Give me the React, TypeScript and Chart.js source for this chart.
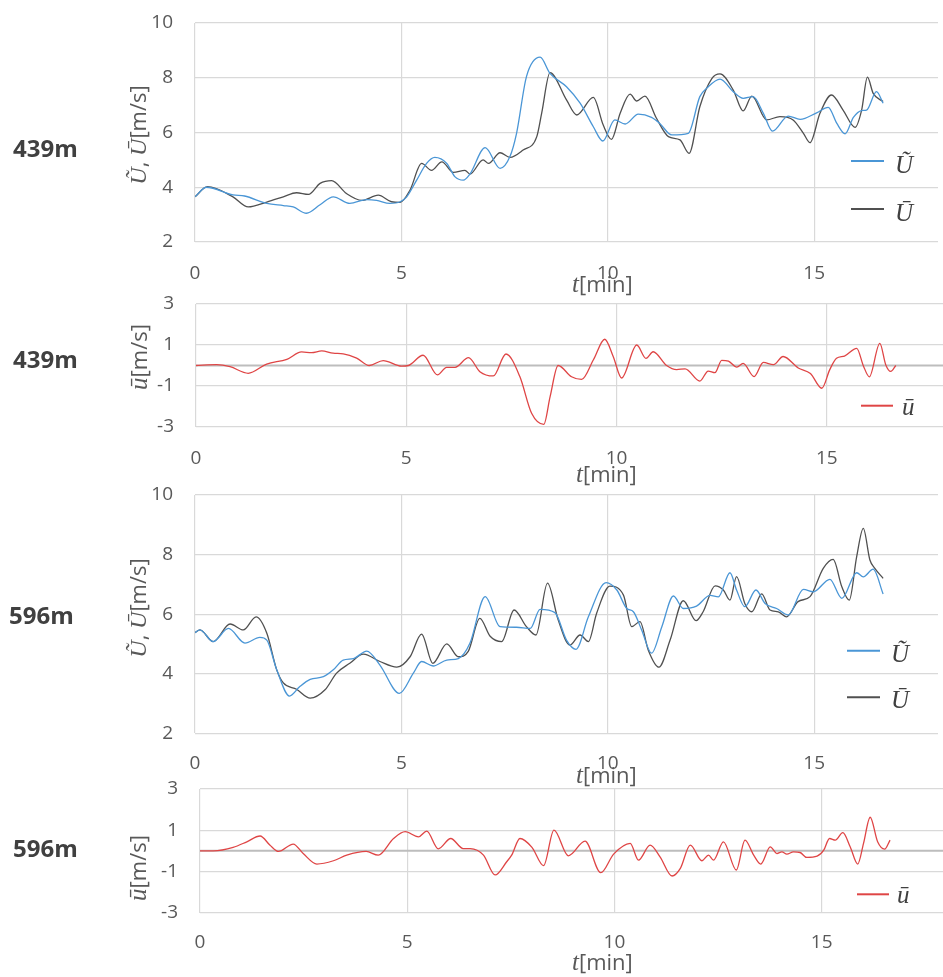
import React, { useEffect, useRef } from 'react';
import { Chart, registerables } from 'chart.js';

Chart.register(...registerables);

type Pt = [number, number];

// ---------------- data ----------------
const X_MIN = 0;
const X_MAX = 18;
const X_STEP = 5;
const SPEED_Y = { min: 2, max: 10, step: 2 };
const FLUCT_Y = { min: -3, max: 3, step: 2 };

const LABEL_TILDE = 'Ũ';
const LABEL_BAR = 'Ū';
const LABEL_FLUCT = 'ū';

// 439m – Ũ (blue)
const U_TILDE_439: Pt[] = [
  [0, 3.65], [0.28, 4.0], [0.92, 3.72], [1.2, 3.68], [1.74, 3.41], [2.14, 3.33], [2.38, 3.28], [2.7, 3.05],
  [3.03, 3.36], [3.35, 3.65], [3.75, 3.41], [4.16, 3.55], [4.4, 3.52], [4.72, 3.41], [4.97, 3.47], [5.13, 3.65],
  [5.37, 4.26], [5.61, 4.87], [5.81, 5.09], [6.1, 4.87], [6.3, 4.38], [6.5, 4.26], [6.66, 4.48], [7.03, 5.45],
  [7.39, 4.69], [7.63, 5.12], [7.79, 5.97], [8.03, 8.04], [8.36, 8.75], [8.6, 8.16], [9.0, 7.67], [9.33, 7.07],
  [9.65, 6.21], [9.88, 5.69], [10.17, 6.46], [10.42, 6.31], [10.74, 6.67], [11.06, 6.55], [11.26, 6.33], [11.55, 5.91],
  [11.95, 5.97], [12.23, 7.31], [12.4, 7.62], [12.72, 7.95], [13.04, 7.49], [13.28, 7.25], [13.52, 7.31], [13.77, 6.7],
  [13.99, 6.05], [14.37, 6.6], [14.66, 6.48], [15.06, 6.72], [15.34, 6.92], [15.55, 6.33], [15.75, 5.95], [15.95, 6.55],
  [16.15, 6.8], [16.27, 6.82], [16.51, 7.49], [16.67, 7.07],
];

// 439m – Ū (black)
const U_BAR_439: Pt[] = [
  [0, 3.65], [0.3, 4.02], [0.92, 3.65], [1.29, 3.28], [1.74, 3.46], [2.14, 3.65], [2.46, 3.8], [2.75, 3.74],
  [3.03, 4.14], [3.31, 4.24], [3.67, 3.77], [4.04, 3.52], [4.44, 3.71], [4.76, 3.47], [4.97, 3.45], [5.21, 3.9],
  [5.49, 4.87], [5.73, 4.62], [5.98, 4.93], [6.26, 4.54], [6.54, 4.62], [6.66, 4.48], [6.98, 5.0], [7.11, 4.87],
  [7.39, 5.26], [7.63, 5.09], [7.95, 5.36], [8.28, 5.85], [8.4, 6.72], [8.6, 8.19], [9.0, 7.19], [9.25, 6.64],
  [9.65, 7.28], [9.89, 6.27], [10.09, 5.75], [10.3, 6.7], [10.54, 7.4], [10.7, 7.15], [10.9, 7.33], [11.18, 6.52],
  [11.47, 5.85], [11.75, 5.73], [11.97, 5.24], [12.23, 6.94], [12.52, 7.97], [12.72, 8.14], [13.04, 7.55], [13.28, 6.79],
  [13.49, 7.33], [13.85, 6.46], [14.17, 6.58], [14.49, 6.46], [14.74, 5.97], [14.9, 5.63], [15.14, 6.7], [15.42, 7.37],
  [15.7, 6.82], [15.99, 6.19], [16.15, 6.82], [16.29, 8.02], [16.43, 7.43], [16.67, 7.13],
];

// 439m – ū (red)
const U_FLUCT_439: Pt[] = [
  [0, 0], [0.49, 0.04], [0.81, -0.06], [1.24, -0.38], [1.68, 0.07], [2.16, 0.3], [2.51, 0.66], [2.75, 0.63],
  [2.99, 0.71], [3.26, 0.6], [3.5, 0.57], [3.82, 0.36], [4.12, 0.0], [4.45, 0.24], [4.89, -0.03], [5.05, 0],
  [5.4, 0.5], [5.74, -0.46], [5.96, -0.09], [6.16, -0.09], [6.48, 0.38], [6.75, -0.3], [7.07, -0.51], [7.37, 0.56],
  [7.7, -0.54], [7.98, -2.33], [8.27, -2.87], [8.42, -1.52], [8.61, 0.0], [8.93, -0.55], [9.17, -0.68], [9.45, 0.28],
  [9.72, 1.28], [9.92, 0.44], [10.12, -0.61], [10.48, 1.0], [10.7, 0.35], [10.87, 0.67], [11.19, 0.0], [11.43, -0.2],
  [11.63, -0.16], [11.98, -0.76], [12.18, -0.27], [12.34, -0.35], [12.5, 0.25], [12.66, 0.21], [12.86, -0.08], [13.01, 0.1],
  [13.27, -0.54], [13.49, 0.15], [13.73, 0.04], [13.96, 0.44], [14.32, -0.12], [14.61, -0.39], [14.88, -1.11], [15.07, -0.2],
  [15.23, 0.35], [15.42, 0.46], [15.71, 0.84], [15.87, -0.02], [16.01, -0.55], [16.26, 1.08], [16.4, 0.04], [16.52, -0.29],
  [16.64, 0],
];

// 596m – Ũ (blue)
const U_TILDE_596: Pt[] = [
  [0, 5.38], [0.12, 5.47], [0.44, 5.08], [0.81, 5.52], [1.21, 5.03], [1.57, 5.22], [1.74, 5.13], [1.98, 4.13],
  [2.29, 3.25], [2.54, 3.57], [2.79, 3.81], [3.11, 3.9], [3.35, 4.13], [3.59, 4.46], [3.84, 4.51], [4.16, 4.76],
  [4.48, 4.29], [4.95, 3.34], [5.29, 4.02], [5.49, 4.41], [5.77, 4.26], [6.1, 4.46], [6.38, 4.51], [6.66, 5.02],
  [7.03, 6.59], [7.39, 5.58], [7.79, 5.56], [8.12, 5.52], [8.36, 6.16], [8.72, 6.05], [9.0, 5.13], [9.23, 4.82],
  [9.53, 5.91], [9.96, 7.06], [10.22, 6.81], [10.46, 6.19], [10.62, 6.08], [10.82, 5.47], [11.06, 4.69], [11.31, 5.58],
  [11.59, 6.61], [11.83, 6.19], [12.15, 6.27], [12.48, 6.63], [12.68, 6.58], [12.96, 7.39], [13.12, 6.81], [13.32, 6.25],
  [13.59, 6.81], [13.81, 6.36], [14.09, 6.19], [14.37, 5.97], [14.74, 6.83], [14.98, 6.75], [15.38, 7.17], [15.67, 6.53],
  [16.03, 7.39], [16.19, 7.25], [16.43, 7.51], [16.67, 6.68],
];

// 596m – Ū (black)
const U_BAR_596: Pt[] = [
  [0, 5.38], [0.12, 5.47], [0.44, 5.08], [0.85, 5.67], [1.17, 5.47], [1.48, 5.91], [1.74, 5.36], [1.98, 4.13],
  [2.14, 3.69], [2.46, 3.48], [2.79, 3.18], [3.15, 3.46], [3.43, 4.02], [3.75, 4.35], [4.08, 4.66], [4.48, 4.41],
  [4.89, 4.22], [5.21, 4.57], [5.49, 5.33], [5.76, 4.35], [6.1, 5.0], [6.38, 4.57], [6.62, 4.75], [6.9, 5.86],
  [7.15, 5.26], [7.43, 5.08], [7.73, 6.14], [8.03, 5.58], [8.26, 5.3], [8.54, 7.04], [8.8, 5.8], [9.08, 4.96],
  [9.33, 5.3], [9.53, 5.08], [9.73, 6.03], [10.05, 6.94], [10.38, 6.64], [10.58, 5.58], [10.78, 5.75], [10.98, 4.8],
  [11.24, 4.22], [11.51, 5.13], [11.83, 6.45], [12.14, 5.78], [12.31, 6.08], [12.6, 6.95], [12.8, 6.81], [12.96, 6.47],
  [13.12, 7.26], [13.32, 6.36], [13.49, 6.08], [13.73, 6.68], [13.93, 6.14], [14.13, 6.08], [14.33, 5.91], [14.61, 6.42],
  [14.9, 6.59], [15.22, 7.54], [15.46, 7.84], [15.67, 6.92], [15.85, 6.47], [16.03, 7.93], [16.19, 8.88], [16.35, 7.82],
  [16.47, 7.54], [16.67, 7.2],
];

// 596m – ū (red)
const U_FLUCT_596: Pt[] = [
  [0, 0], [0.32, 0], [0.8, 0.17], [1.13, 0.44], [1.45, 0.72], [1.69, 0.27], [1.89, -0.03], [2.25, 0.33],
  [2.49, -0.13], [2.82, -0.64], [3.22, -0.48], [3.54, -0.21], [4.01, -0.03], [4.3, -0.21], [4.67, 0.6], [4.95, 0.93],
  [5.27, 0.68], [5.47, 0.96], [5.75, 0.1], [6.05, 0.6], [6.35, 0.11], [6.52, 0.11], [6.84, -0.21], [7.12, -1.17],
  [7.4, -0.53], [7.52, -0.21], [7.72, 0.6], [8.01, 0.17], [8.29, -0.72], [8.54, 1.01], [8.89, -0.24], [9.29, 0.47],
  [9.67, -1.06], [9.98, -0.16], [10.38, 0.36], [10.58, -0.45], [10.86, 0.28], [11.1, -0.29], [11.39, -1.22], [11.59, -0.85],
  [11.83, 0.28], [12.11, -0.48], [12.27, -0.21], [12.39, -0.45], [12.63, 0.44], [12.94, -0.93], [13.15, 0.52], [13.36, -0.21],
  [13.53, -0.64], [13.76, 0.19], [13.92, -0.13], [14.04, -0.05], [14.16, -0.16], [14.32, -0.05], [14.48, -0.08], [14.64, -0.32],
  [14.89, -0.26], [15.05, 0.03], [15.19, 0.6], [15.33, 0.52], [15.51, 0.88], [15.69, 0.19], [15.87, -0.64], [16.01, 0.36],
  [16.17, 1.63], [16.35, 0.44], [16.52, 0.08], [16.65, 0.52],
];

// ---------------- styles ----------------
const BLUE = '#4a96d6';
const BLACK = '#505050';
const RED = '#df4545';
const GRID = '#d9d9d9';
const ZERO = '#bdbdbd';
const TEXT = '#595959';
const DARK = '#404040';
const SANS = '"Open Sans", "Noto Sans", sans-serif';
const MATH = '"Liberation Serif", "DejaVu Serif", serif';

type Run = { text: string; font: string };

const X_TITLE: Run[] = [
  { text: 't', font: `italic 25px ${MATH}` },
  { text: '[min]', font: `22px ${SANS}` },
];
const Y_TITLE_SPEED: Run[] = [
  { text: LABEL_TILDE, font: `italic 24px ${MATH}` },
  { text: ', ', font: `22px ${SANS}` },
  { text: LABEL_BAR, font: `italic 24px ${MATH}` },
  { text: '[m/s]', font: `22px ${SANS}` },
];
const Y_TITLE_FLUCT: Run[] = [
  { text: LABEL_FLUCT, font: `italic 25px ${MATH}` },
  { text: '[m/s]', font: `22px ${SANS}` },
];

type Series = { label: string; data: Pt[]; color: string };
type PanelSpec = {
  key: string;
  side: string;
  top: number; height: number;
  area: { left: number; top: number; bottom: number; right: number };
  y: { min: number; max: number; step: number };
  zeroLine: boolean;
  series: Series[];
  xPad: number;
  sidePos: { x: number; base: number };
  yTitle: Run[];
  yTitlePos: { base: number; cy: number };
  xTitlePos: { x: number; base: number };
  legend: { x1: number; x2: number; lx: number; ys: number[]; off: number };
};

const PANELS: PanelSpec[] = [
  {
    key: 'p1', side: '439m', top: 0, height: 300,
    area: { left: 195, top: 23, bottom: 242, right: 938 },
    y: SPEED_Y, zeroLine: false,
    series: [
      { label: LABEL_TILDE, data: U_TILDE_439, color: BLUE },
      { label: LABEL_BAR, data: U_BAR_439, color: BLACK },
    ],
    xPad: 20,
    sidePos: { x: 13, base: 157 },
    yTitle: Y_TITLE_SPEED, yTitlePos: { base: 146, cy: 135 },
    xTitlePos: { x: 572, base: 292 },
    legend: { x1: 851, x2: 884, lx: 895, ys: [161, 209], off: 12 },
  },
  {
    key: 'p2', side: '439m', top: 290, height: 200,
    area: { left: 196, top: 304, bottom: 427, right: 953 },
    y: FLUCT_Y, zeroLine: true,
    series: [{ label: LABEL_FLUCT, data: U_FLUCT_439, color: RED }],
    xPad: 20,
    sidePos: { x: 13, base: 368 },
    yTitle: Y_TITLE_FLUCT, yTitlePos: { base: 147, cy: 357 },
    xTitlePos: { x: 576, base: 482 },
    legend: { x1: 861, x2: 893, lx: 902, ys: [405.7], off: 9 },
  },
  {
    key: 'p3', side: '596m', top: 480, height: 310,
    area: { left: 195, top: 495, bottom: 733.3, right: 938 },
    y: SPEED_Y, zeroLine: false,
    series: [
      { label: LABEL_TILDE, data: U_TILDE_596, color: BLUE },
      { label: LABEL_BAR, data: U_BAR_596, color: BLACK },
    ],
    xPad: 19,
    sidePos: { x: 9, base: 624 },
    yTitle: Y_TITLE_SPEED, yTitlePos: { base: 146, cy: 608 },
    xTitlePos: { x: 576, base: 783 },
    legend: { x1: 847, x2: 880, lx: 891, ys: [650.7, 697.3], off: 11 },
  },
  {
    key: 'p4', side: '596m', top: 770, height: 207,
    area: { left: 200, top: 789, bottom: 912.7, right: 946 },
    y: FLUCT_Y, zeroLine: true,
    series: [{ label: LABEL_FLUCT, data: U_FLUCT_596, color: RED }],
    xPad: 18,
    sidePos: { x: 13, base: 857 },
    yTitle: Y_TITLE_FLUCT, yTitlePos: { base: 146, cy: 868 },
    xTitlePos: { x: 572, base: 970 },
    legend: { x1: 857, x2: 889, lx: 897, ys: [894.3], off: 9 },
  },
];

function runsWidth(ctx: CanvasRenderingContext2D, runs: Run[]) {
  let w = 0;
  for (const r of runs) { ctx.font = r.font; w += ctx.measureText(r.text).width; }
  return w;
}
function drawRuns(ctx: CanvasRenderingContext2D, runs: Run[], x: number, y: number) {
  let cx = x;
  for (const r of runs) {
    ctx.font = r.font;
    ctx.fillText(r.text, cx, y);
    cx += ctx.measureText(r.text).width;
  }
}

function makeDeco(p: PanelSpec) {
  return {
    id: 'deco_' + p.key,
    beforeDatasetsDraw(chart: any) {
      if (!p.zeroLine) return;
      const { ctx, chartArea } = chart;
      const y = chart.scales.y.getPixelForValue(0);
      ctx.save();
      ctx.strokeStyle = ZERO;
      ctx.lineWidth = 2;
      ctx.beginPath();
      ctx.moveTo(chartArea.left, y);
      ctx.lineTo(chartArea.right, y);
      ctx.stroke();
      ctx.restore();
    },
    afterDraw(chart: any) {
      const ctx: CanvasRenderingContext2D = chart.ctx;
      const off = p.top;
      ctx.save();
      ctx.textAlign = 'left';
      ctx.textBaseline = 'alphabetic';
      // side label
      ctx.fillStyle = DARK;
      ctx.font = `bold 24px ${SANS}`;
      ctx.fillText(p.side, p.sidePos.x, p.sidePos.base - off);
      // y title
      ctx.fillStyle = TEXT;
      ctx.save();
      ctx.translate(p.yTitlePos.base, p.yTitlePos.cy - off);
      ctx.rotate(-Math.PI / 2);
      const w = runsWidth(ctx, p.yTitle);
      drawRuns(ctx, p.yTitle, -w / 2, 0);
      ctx.restore();
      // x title
      ctx.fillStyle = TEXT;
      drawRuns(ctx, X_TITLE, p.xTitlePos.x, p.xTitlePos.base - off);
      // legend
      chart.data.datasets.forEach((ds: any, i: number) => {
        const y = p.legend.ys[i] - off;
        ctx.strokeStyle = ds.borderColor;
        ctx.lineWidth = 2;
        ctx.beginPath();
        ctx.moveTo(p.legend.x1, y);
        ctx.lineTo(p.legend.x2, y);
        ctx.stroke();
        ctx.fillStyle = DARK;
        ctx.font = `italic 25px ${MATH}`;
        ctx.fillText(ds.label, p.legend.lx, y + p.legend.off);
      });
      ctx.restore();
    },
  };
}

function Panel({ p }: { p: PanelSpec }) {
  const ref = useRef<HTMLCanvasElement | null>(null);
  const width = Math.ceil(p.area.right);
  useEffect(() => {
    const canvas = ref.current;
    if (!canvas) return;
    const tickFont = { family: SANS, size: 19 };
    const chart = new Chart(canvas, {
      type: 'line',
      data: {
        datasets: p.series.map((s) => ({
          label: s.label,
          data: s.data.map(([x, y]) => ({ x, y })),
          borderColor: s.color,
          backgroundColor: s.color,
          borderWidth: 1.3,
          pointRadius: 0,
          cubicInterpolationMode: 'monotone' as const,
          fill: false,
        })),
      },
      options: {
        animation: false,
        responsive: false,
        events: [],
        layout: { padding: { left: 0, right: width - p.area.right, top: p.area.top - p.top, bottom: 0 } },
        plugins: { legend: { display: false }, tooltip: { enabled: false } },
        scales: {
          x: {
            type: 'linear',
            min: X_MIN,
            max: X_MAX,
            ticks: {
              stepSize: X_STEP, includeBounds: false, padding: p.xPad, color: TEXT, font: tickFont,
              maxRotation: 0, autoSkip: false,
            },
            grid: { color: GRID, lineWidth: 1.2, drawTicks: false },
            border: { display: false },
            afterFit: (s: any) => { s.height = p.top + p.height - p.area.bottom; },
          },
          y: {
            type: 'linear',
            min: p.y.min,
            max: p.y.max,
            ticks: { stepSize: p.y.step, padding: 0, color: TEXT, font: tickFont },
            grid: {
              color: GRID, lineWidth: 1.2, drawTicks: true, tickLength: 22,
              tickColor: 'rgba(0,0,0,0)',
            },
            border: { display: false },
            afterFit: (s: any) => { s.width = p.area.left; },
          },
        },
      } as any,
      plugins: [makeDeco(p)],
    });
    return () => chart.destroy();
  }, [p, width]);
  return (
    <canvas
      ref={ref}
      width={width}
      height={p.height}
      style={{ position: 'absolute', left: 0, top: p.top, width, height: p.height }}
    />
  );
}

export default function App() {
  return (
    <div
      style={{
        position: 'fixed', left: 0, top: 0, width: '100vw', height: '100vh',
        overflow: 'hidden', background: '#ffffff',
      }}
    >
      {PANELS.map((p) => <Panel key={p.key} p={p} />)}
    </div>
  );
}
